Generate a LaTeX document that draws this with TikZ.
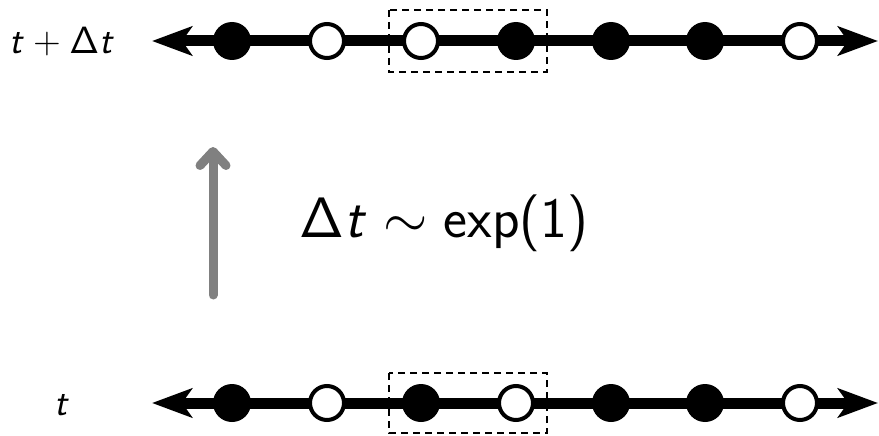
\RequirePackage{fix-cm}
\documentclass[tikz,border=0pt]{standalone}
\usetikzlibrary{arrows.meta}
\DeclareMathAlphabet{\mathsfit}{OT1}{cmss}{m}{sl}
\DeclareMathAlphabet{\mathsfup}{OT1}{cmss}{m}{n}
\newcommand{\sfplus}{\mathbin{\mathsfup{\mathchar"702B}}}
\newcommand{\sflp}{\mathopen{\mathsfup{\mathchar"7028}}}
\newcommand{\sfrp}{\mathclose{\mathsfup{\mathchar"7029}}}
\tikzset{
  axis/.style={line width=11pt,{Stealth[length=40pt,width=29pt,inset=10pt]}-{Stealth[length=40pt,width=29pt,inset=10pt]}},
  full/.style={circle,fill=black,minimum size=38pt,inner sep=0pt},
  empty/.style={circle,draw=black,fill=white,line width=4pt,minimum size=34pt,inner sep=0pt},
  dbox/.style={draw=black,line width=1.5pt,dash pattern=on 7pt off 5pt},
  garrow/.style={draw=gray,line width=9pt,line cap=round,-{Straight Barb[length=14pt,width=26pt,round]}},
  lab/.style={inner sep=0pt,font=\fontsize{38}{42}\selectfont},
  big/.style={inner sep=0pt,font=\fontsize{57}{62}\selectfont}
}
\begin{document}
\begin{tikzpicture}[x=1pt,y=-1pt]
\useasboundingbox (0,0) rectangle (879,436);
% top line
\coordinate (tl) at (152,41);
\coordinate (tr) at (878,41);
\draw[axis] (tl) -- (tr);
\node[full]  (t1) at (232,41) {};
\node[empty] (t2) at (327,41) {};
\node[empty] (t3) at (421,41) {};
\node[full]  (t4) at (516,41) {};
\node[full]  (t5) at (611,41) {};
\node[full]  (t6) at (705,41) {};
\node[empty] (t7) at (800,41) {};
\draw[dbox] (389,10) rectangle (547,72);
% bottom line
\coordinate (bl) at (152,403);
\coordinate (br) at (878,403);
\draw[axis] (bl) -- (br);
\node[full]  (b1) at (232,403) {};
\node[empty] (b2) at (327,403) {};
\node[full]  (b3) at (421,403) {};
\node[empty] (b4) at (516,403) {};
\node[full]  (b5) at (611,403) {};
\node[full]  (b6) at (705,403) {};
\node[empty] (b7) at (800,403) {};
\draw[dbox] (389,373) rectangle (547,433);
% labels
\node[lab] (ltop) at (62,42) {$\mathsfit{t}\sfplus\mathsfup{\Delta}\mathsfit{t}$};
\node[lab] (lbot) at (62,405) {$\mathsfit{t}$};
% gray arrow
\coordinate (ga) at (213,295);
\coordinate (gb) at (213,147);
\draw[garrow] (ga) -- (gb);
\node[big,anchor=base] (dt) at (444,237) {$\mathsfup{\Delta}\mathsfit{t}\sim\mathsfup{exp}\sflp\mathsfup{1}\sfrp$};
\end{tikzpicture}
\end{document}
